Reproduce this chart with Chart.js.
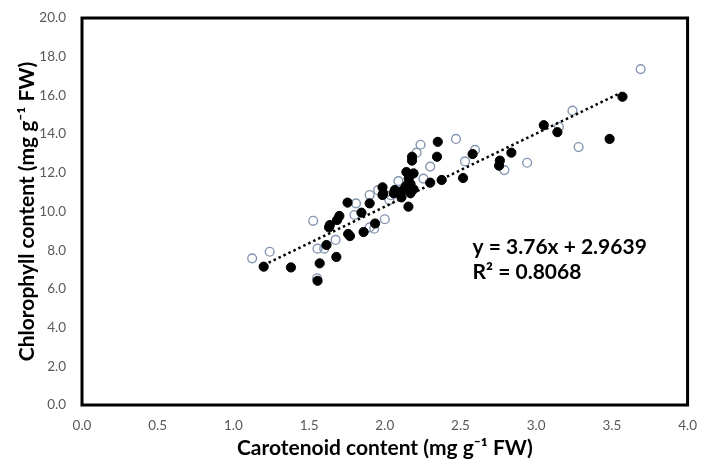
<!DOCTYPE html>
<html>
<head>
<meta charset="utf-8">
<script src="https://cdn.jsdelivr.net/npm/chart.js@4.4.1/dist/chart.umd.min.js"></script>
<style>
  html, body { margin: 0; padding: 0; background: #ffffff; }
  #wrap { width: 702px; height: 459px; }
</style>
</head>
<body>
<div id="wrap"><canvas id="scatter-carot"></canvas></div>
<script>
// Points pleins (série 1)
const filledX = [1.20, 1.38, 1.57, 1.556, 1.68, 1.615, 1.637, 1.632, 1.70, 1.685, 1.754, 1.846, 1.90, 1.936, 1.86, 1.758, 1.77,
  1.985, 1.99, 2.06, 1.985, 2.11, 2.156, 2.17, 2.12, 2.066, 2.19, 2.14, 2.17, 2.158, 2.143, 2.19, 2.30, 2.376, 2.517,
  2.18, 2.18, 2.345, 2.35, 2.58, 2.755, 2.76, 2.836, 3.05, 3.14, 3.485, 3.57];
const filledY = [7.15, 7.11, 7.32, 6.42, 7.65, 8.27, 9.30, 9.18, 9.77, 9.56, 10.46, 9.94, 10.42, 9.38, 8.94, 8.84, 8.73,
  11.25, 10.94, 10.94, 10.85, 10.73, 10.25, 10.94, 11.11, 11.11, 11.15, 11.32, 11.42, 11.70, 12.04, 11.97, 11.49, 11.63, 11.73,
  12.63, 12.83, 12.83, 13.60, 12.97, 12.37, 12.63, 13.04, 14.46, 14.10, 13.75, 15.93];

// Points vides (série 2)
const openX = [1.124, 1.24, 1.553, 1.556, 1.60, 1.527, 1.675, 1.80, 1.81, 1.90, 1.956, 1.93, 1.90, 2.00, 2.03, 2.04,
  2.09, 2.255, 2.30, 2.21, 2.236, 2.47, 2.53, 2.596, 2.79, 2.94, 3.15, 3.24, 3.28, 3.69];
const openY = [7.58, 7.92, 6.55, 8.08, 8.08, 9.52, 8.53, 9.82, 10.42, 10.85, 11.10, 9.11, 9.18, 9.60, 10.59, 10.84,
  11.57, 11.70, 12.32, 13.04, 13.45, 13.75, 12.59, 13.18, 12.14, 12.52, 14.38, 15.21, 13.33, 17.36];

// Courbe de tendance (extrémités)
const trendX = [1.2, 3.56];
const trendY = [7.23, 16.14];

// Textes
const eqLines = ["y = 3.76x + 2.9639", "R\u00B2 = 0.8068"];
const eqPosX = 2.58;
const eqPosY = [8.17, 6.86];
const xTitle = "Carotenoid content (mg g\u207B\u00B9 FW)";
const yTitle = "Chlorophyll content (mg g\u207B\u00B9 FW)";

const toPoints = (xs, ys) => xs.map((x, i) => ({ x: x, y: ys[i] }));

const fontFamily = "Lato, 'Open Sans', sans-serif";

// Cadre noir + équation
const framePlugin = {
  id: "framePlugin",
  afterDatasetsDraw(chart) {
    const ctx = chart.ctx;
    const a = chart.chartArea;
    ctx.save();
    ctx.strokeStyle = "#000000";
    ctx.lineWidth = 3;
    ctx.strokeRect(a.left, a.top, a.right - a.left, a.bottom - a.top);
    ctx.fillStyle = "#000000";
    ctx.font = "bold 21px " + fontFamily;
    ctx.textAlign = "left";
    ctx.textBaseline = "middle";
    const px = chart.scales.x.getPixelForValue(eqPosX);
    eqLines.forEach((t, i) => {
      ctx.fillText(t, px, chart.scales.y.getPixelForValue(eqPosY[i]));
    });
    ctx.restore();
  },
};

const data = {
  datasets: [
    {
      type: "line",
      data: toPoints(trendX, trendY),
      borderColor: "#000000",
      borderWidth: 2.5,
      borderDash: [2.5, 3],
      pointRadius: 0,
      fill: false,
      order: 0,
    },
    {
      data: toPoints(filledX, filledY),
      backgroundColor: "#000000",
      borderColor: "#000000",
      borderWidth: 1,
      pointRadius: 4.6,
      order: 1,
    },
    {
      data: toPoints(openX, openY),
      backgroundColor: "rgba(255,255,255,0)",
      borderColor: "#8496B0",
      borderWidth: 1.4,
      pointRadius: 4.4,
      order: 2,
    },
  ],
};

const options = {
  responsive: true,
  maintainAspectRatio: false,
  animation: false,
  layout: { padding: { top: 18, right: 14, left: 0, bottom: 0 } },
  plugins: {
    legend: { display: false },
    tooltip: { enabled: false },
  },
  scales: {
    x: {
      type: "linear",
      min: 0,
      max: 4,
      grid: { display: false },
      border: { display: false },
      ticks: {
        stepSize: 0.5,
        color: "#595959",
        font: { family: fontFamily, size: 13.5 },
        padding: 5,
        callback: (v) => v.toFixed(1),
      },
      title: {
        display: true,
        text: xTitle,
        color: "#000000",
        font: { family: fontFamily, size: 21, weight: "bold", lineHeight: 1 },
        padding: { top: 4, bottom: 0 },
      },
      afterFit: (scale) => { scale.height = 54; },
    },
    y: {
      min: 0,
      max: 20,
      grid: { display: false },
      border: { display: false },
      ticks: {
        stepSize: 2,
        color: "#595959",
        font: { family: fontFamily, size: 13.5 },
        padding: 8,
        callback: (v) => v.toFixed(1),
      },
      title: {
        display: true,
        text: yTitle,
        color: "#000000",
        font: { family: fontFamily, size: 21, weight: "bold" },
        padding: { top: 15, bottom: 0 },
      },
      afterFit: (scale) => { scale.width = 82; },
    },
  },
};

// Création du graphique
const ctx = document.getElementById("scatter-carot").getContext("2d");
const scatterChart = new Chart(ctx, {
  type: "scatter",
  data: data,
  options: options,
  plugins: [framePlugin],
});
</script>
</body>
</html>
